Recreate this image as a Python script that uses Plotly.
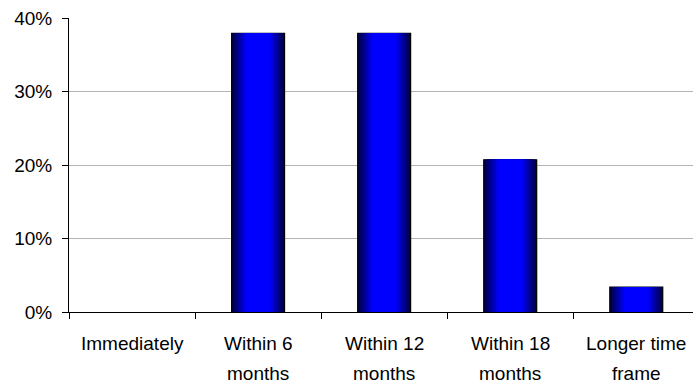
import plotly.graph_objects as go

# Survey answers: share of respondents per time frame
categories = ["Immediately", "Within 6<br>months", "Within 12<br>months",
              "Within 18<br>months", "Longer time<br>frame"]
shares = [0.0, 37.9, 37.9, 20.7, 3.4]
y_ticks = [0, 10, 20, 30, 40]
y_tick_labels = [f"{v}%" for v in y_ticks]

BAR_WIDTH = 0.42
DARK = (0, 0, 64)
BRIGHT = (0, 0, 255)
FONT_SIZE = 19
LABEL_GAP = 31      # px from the axis line to the centre of the first label line
LABEL_LEADING = 30  # px between label lines


def band_colour(f):
    """Colour of a band whose outer edge sits at fraction f of the half width."""
    t = min(max((f - 0.45) / 0.55, 0.0), 1.0)
    r = [round(BRIGHT[i] + (DARK[i] - BRIGHT[i]) * t) for i in range(3)]
    return f"rgb({r[0]},{r[1]},{r[2]})"


# outline only on bars that have height
outline_widths = [1.2 if v > 0 else 0 for v in shares]

fig = go.Figure()

# Shaded bars: stacked overlay layers, widest/darkest first, narrowing to the bright core
steps = 18
for k in range(steps):
    f = 1.0 - k * (1.0 - 0.42) / (steps - 1)
    fig.add_trace(go.Bar(
        x=categories, y=shares,
        width=BAR_WIDTH * f,
        marker=dict(color=band_colour(f),
                    line=dict(color="black",
                              width=outline_widths if k == 0 else 0)),
        hoverinfo="skip" if k else None,
        showlegend=False,
    ))

# Category labels, one annotation per line for wider line spacing
for cat in categories:
    for i, line in enumerate(cat.split("<br>")):
        fig.add_annotation(
            x=cat, y=0, xref="x", yref="y",
            text=line, showarrow=False,
            xanchor="center", yanchor="middle",
            yshift=-(LABEL_GAP + i * LABEL_LEADING),
            font=dict(size=FONT_SIZE, color="black"),
        )

font_family = "Liberation Sans, Arial, sans-serif"

fig.update_layout(
    width=693, height=383,
    margin=dict(l=69, r=0, t=18, b=71),
    paper_bgcolor="white", plot_bgcolor="white",
    barmode="overlay",
    font=dict(family=font_family, size=FONT_SIZE, color="black"),
    xaxis=dict(
        type="category",
        range=[-0.5, 4.45],
        tickson="boundaries",
        ticks="outside", ticklen=6, tickcolor="black", tickwidth=1,
        showline=True, linecolor="black", linewidth=1,
        showgrid=False,
        showticklabels=False,
    ),
    yaxis=dict(
        range=[0, 40],
        tickmode="array",
        tickvals=y_ticks,
        ticktext=y_tick_labels,
        ticks="outside", ticklen=6, tickcolor="black", tickwidth=1,
        showline=True, linecolor="black", linewidth=1,
        showgrid=True, gridcolor="#b4b4b4", gridwidth=1,
        zeroline=False,
        ticklabelstandoff=6,
        tickfont=dict(size=FONT_SIZE),
    ),
)

fig.write_html("out.html")
